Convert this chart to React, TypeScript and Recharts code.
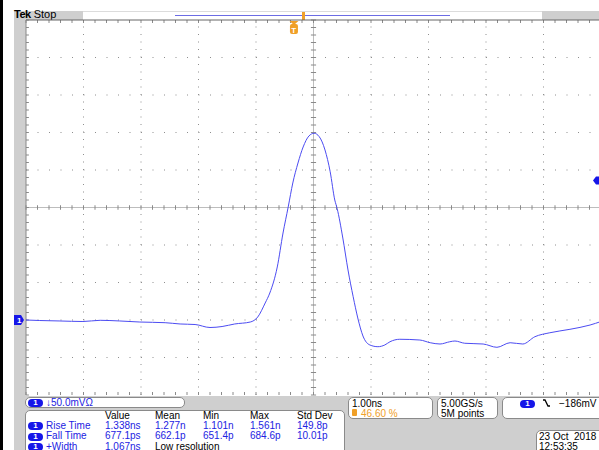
import { LineChart, Line, XAxis, YAxis, ReferenceLine, ReferenceDot } from "recharts";

// time in ns relative to screen centre, level in mV (displayed, channel inverted)
const TIME_NS = [
  -5.0, -4.76, -4.41, -4.01, -3.71, -3.37, -3.02, -2.58, -2.32, -2.06, -1.8, -1.59, -1.37, -1.1,
  -0.97, -0.84, -0.76, -0.63, -0.53, -0.44, -0.36, -0.27, -0.18, -0.08, 0.01, 0.1, 0.2, 0.29,
  0.37, 0.41, 0.51, 0.6, 0.69, 0.77, 0.86, 0.98, 1.12, 1.24, 1.33, 1.5, 1.85, 2.03, 2.2, 2.37,
  2.46, 2.63, 2.95, 3.19, 3.42, 3.64, 3.85, 4.11, 4.46, 4.81, 5.0,
];
const LEVEL_MV = [
  0, -0.7, -1.3, -2, -0.4, -1.3, -2.7, -3.6, -5.3, -6, -10, -8.7, -5.3, -2.7,
  4, 22.7, 36, 70.7, 116, 150.7, 182.7, 209.3, 230.7, 245.3, 249, 244.4, 226.7, 197.7,
  160, 149, 109.3, 66.7, 31, 2.7, -21.3, -33.3, -35.6, -33.3, -29, -25.7, -26.7, -30.3, -32, -29,
  -28, -31, -32, -36.4, -30.3, -32, -22.3, -17, -12.4, -6.7, -2,
];

const TIME_DIVS = [-5, -4, -3, -2, -1, 0, 1, 2, 3, 4, 5];
const LEVEL_DIVS = [-100, -50, 0, 50, 100, 150, 200, 250, 300, 350, 400];
const TRIGGER_NS = -0.34;
const TRIGGER_MV = 186;

const MEAS_COLUMNS = ["Value", "Mean", "Min", "Max", "Std Dev"];
const MEAS_NAMES = ["Rise Time", "Fall Time", "+Width"];
const MEAS_VALUES = [
  ["1.338ns", "1.277n", "1.101n", "1.561n", "149.8p"],
  ["677.1ps", "662.1p", "651.4p", "684.6p", "10.01p"],
  ["1.067ns"],
];

const data = TIME_NS.map((t, i) => ({ t, v: LEVEL_MV[i] }));

const FONT = '"Liberation Sans", Arial, sans-serif';
const BLUE = "#2222e2";
const ORANGE = "#f0a028";
const PANEL = "#cfcfcf";
const COL_X = [105, 155, 203, 250, 297];

// minor tick positions (5 per division)
const minorT = Array.from({ length: 51 }, (_, i) => -5 + i * 0.2);
const minorV = Array.from({ length: 51 }, (_, i) => -100 + i * 10);

function Pill({ left, top }: { left: number; top: number }) {
  return (
    <div
      style={{
        position: "absolute",
        left,
        top,
        width: 15,
        height: 8,
        borderRadius: 4,
        background: "#1616e8",
        color: "#fff",
        fontSize: 8,
        lineHeight: "8px",
        textAlign: "center",
        fontWeight: "bold",
        fontFamily: FONT,
      }}
    >
      1
    </div>
  );
}

function Txt({ x, y, children, color = "#000", size = 10 }: any) {
  return (
    <div
      style={{
        position: "absolute",
        left: x,
        top: y,
        fontSize: size,
        lineHeight: "10px",
        fontFamily: FONT,
        color,
        whiteSpace: "pre",
      }}
    >
      {children}
    </div>
  );
}

const boxStyle = (left: number, top: number, width: number, height: number): any => ({
  position: "absolute",
  left,
  top,
  width,
  height,
  background: "#fff",
  border: "1px solid #8a8a8a",
  borderRadius: 5,
  boxSizing: "border-box",
});

export default function App() {
  return (
    <div
      style={{
        position: "absolute",
        left: 0,
        top: 0,
        width: 599,
        height: 450,
        overflow: "hidden",
        background: "#fff",
        fontFamily: FONT,
      }}
    >
      {/* frame */}
      <div style={{ position: "absolute", left: 0, top: 0, width: 3, height: 450, background: "#000" }} />
      <div style={{ position: "absolute", left: 14, top: 11, width: 12, height: 440, background: PANEL }} />
      <div style={{ position: "absolute", left: 14, top: 11, width: 69, height: 9, background: PANEL }} />
      <div style={{ position: "absolute", left: 83, top: 11, width: 459, height: 9, borderTop: "1px solid #dcdcdc", boxSizing: "border-box" }} />
      <div style={{ position: "absolute", left: 542, top: 11, width: 57, height: 9, background: PANEL }} />
      <div style={{ position: "absolute", left: 175, top: 15, width: 275, height: 1, background: "#6c6ce4" }} />
      <div style={{ position: "absolute", left: 302, top: 12, width: 3, height: 8, background: ORANGE }} />
      <div style={{ position: "absolute", left: 14, top: 9, fontSize: 11, lineHeight: "11px", color: "#000" }}>
        <b style={{ letterSpacing: -0.5 }}>Tek</b> Stop
      </div>

      <div style={{ position: "absolute", left: 0, top: 0 }}>
        <LineChart width={610} height={400} data={data} margin={{ top: 20, right: 9, left: 26, bottom: 5 }}>
          <XAxis type="number" dataKey="t" domain={[-5, 5]} ticks={TIME_DIVS} hide />
          <YAxis type="number" domain={[-100, 400]} ticks={LEVEL_DIVS} hide />

          {TIME_DIVS.filter((t) => t !== 0 && t !== -5 && t !== 5).map((t) => (
            <ReferenceLine key={"gx" + t} x={t} stroke="#8e8e8e" strokeDasharray="1 6.5" />
          ))}
          {LEVEL_DIVS.filter((v) => v !== 150 && v !== 400 && v !== -100).map((v) => (
            <ReferenceLine key={"gy" + v} y={v} stroke="#8e8e8e" strokeDasharray="1 10.5" />
          ))}

          <ReferenceLine x={0} stroke="#bdbdbd" />
          <ReferenceLine y={150} stroke="#bdbdbd" />
          {minorT.map((t) => (
            <ReferenceLine key={"ch" + t} segment={[{ x: t, y: 147 }, { x: t, y: 153 }]} stroke="#8a8a8a" />
          ))}
          {minorV.map((v) => (
            <ReferenceLine key={"cv" + v} segment={[{ x: -0.045, y: v }, { x: 0.045, y: v }]} stroke="#8a8a8a" />
          ))}
          {minorT.map((t) => (
            <ReferenceLine key={"tb" + t} segment={[{ x: t, y: 400 }, { x: t, y: 396 }]} stroke="#8a8a8a" />
          ))}
          {minorT.map((t) => (
            <ReferenceLine key={"bb" + t} segment={[{ x: t, y: -100 }, { x: t, y: -96 }]} stroke="#8a8a8a" />
          ))}
          {minorV.map((v) => (
            <ReferenceLine key={"lb" + v} segment={[{ x: -5, y: v }, { x: -4.95, y: v }]} stroke="#8a8a8a" />
          ))}
          <ReferenceLine y={400} stroke="#666" />
          <ReferenceLine x={-5} stroke="#888" />

          <Line
            type="monotone"
            dataKey="v"
            stroke="#4c4cf2"
            strokeWidth={1}
            dot={false}
            isAnimationActive={false}
          />

          <ReferenceDot
            x={-5}
            y={0}
            r={0}
            shape={(p: any) => (
              <g>
                <polygon
                  points={`${p.cx - 12},${p.cy - 5} ${p.cx - 5},${p.cy - 5} ${p.cx - 2},${p.cy} ${p.cx - 5},${p.cy + 5} ${p.cx - 12},${p.cy + 5}`}
                  fill="#1616e8"
                />
                <text x={p.cx - 9} y={p.cy + 3} fill="#fff" fontSize={8} fontWeight="bold" fontFamily={FONT}>
                  1
                </text>
              </g>
            )}
          />
          <ReferenceDot
            x={5}
            y={TRIGGER_MV}
            r={0}
            shape={(p: any) => (
              <polygon
                points={`${p.cx - 8},${p.cy} ${p.cx - 5},${p.cy - 4} ${p.cx},${p.cy - 4} ${p.cx},${p.cy + 4} ${p.cx - 5},${p.cy + 4}`}
                fill="#1616e8"
              />
            )}
          />
          <ReferenceDot
            x={TRIGGER_NS}
            y={400}
            r={0}
            shape={(p: any) => (
              <g>
                <polygon points={`${p.cx - 4.5},${p.cy + 1} ${p.cx + 4.5},${p.cy + 1} ${p.cx},${p.cy + 5}`} fill={ORANGE} />
                <rect x={p.cx - 4} y={p.cy + 4} width={8} height={10} rx={2} fill={ORANGE} />
                <text x={p.cx - 2.6} y={p.cy + 12.5} fill="#fff" fontSize={8} fontWeight="bold" fontFamily={FONT}>
                  T
                </text>
              </g>
            )}
          />
        </LineChart>
      </div>

      {/* readout panel */}
      <div style={{ position: "absolute", left: 14, top: 396, width: 585, height: 54, background: PANEL }} />
      <div style={boxStyle(25, 397, 160, 11)} />
      <Pill left={28} top={398.5} />
      <Txt x={46} y={397.5} color={BLUE}>↓50.0mVΩ</Txt>

      <div style={{ ...boxStyle(25, 410, 320, 50) }} />
      {MEAS_COLUMNS.map((c, i) => (
        <Txt key={c} x={COL_X[i]} y={410.5}>{c}</Txt>
      ))}
      {MEAS_NAMES.map((n, r) => (
        <div key={n}>
          <Pill left={28} top={422 + r * 10.5} />
          <Txt x={46} y={420.5 + r * 10.5} color={BLUE}>{n}</Txt>
          {MEAS_VALUES[r].map((v, i) => (
            <Txt key={i} x={COL_X[i]} y={420.5 + r * 10.5} color={BLUE}>{v}</Txt>
          ))}
        </div>
      ))}
      <Txt x={COL_X[1]} y={441.5}>Low resolution</Txt>

      <div style={boxStyle(348, 397, 85, 22)} />
      <Txt x={352} y={398.5}>1.00ns</Txt>
      <div style={{ position: "absolute", left: 352, top: 409, width: 5, height: 7, background: ORANGE, borderRadius: 1 }} />
      <Txt x={361} y={408.5} color={ORANGE}>46.60 %</Txt>

      <div style={boxStyle(437, 397, 61, 22)} />
      <Txt x={441} y={398.5}>5.00GS/s</Txt>
      <Txt x={441} y={408.5}>5M points</Txt>

      <div style={boxStyle(502, 397, 110, 22)} />
      <Pill left={520} top={399.5} />
      <svg style={{ position: "absolute", left: 541, top: 398 }} width={12} height={10}>
        <polyline points="2,2 4,2 7,8 9,8" fill="none" stroke="#000" strokeWidth={1.3} />
      </svg>
      <Txt x={559} y={398.5}>−186mV</Txt>

      <div style={boxStyle(536, 430, 80, 30)} />
      <Txt x={539} y={431.5}>23 Oct  2018</Txt>
      <Txt x={539} y={441.5}>12:53:35</Txt>
    </div>
  );
}
